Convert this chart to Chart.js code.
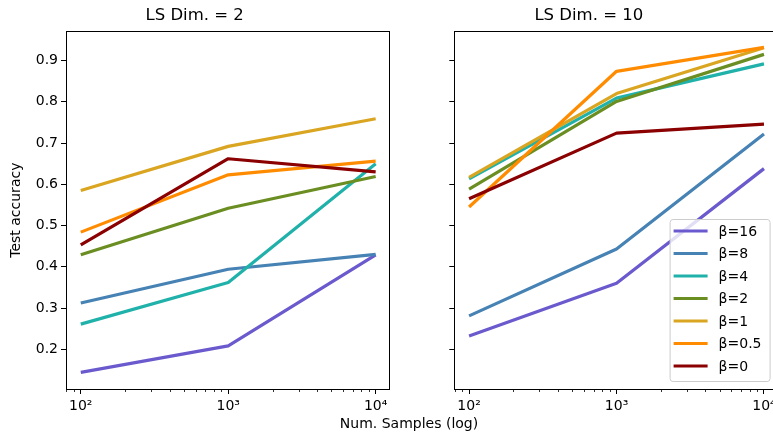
<!DOCTYPE html>
<html>
<head>
<meta charset="utf-8">
<script src="https://cdn.jsdelivr.net/npm/chart.js@4"></script>
<style>
  html, body { margin: 0; padding: 0; background: #fff; overflow: hidden; }
  #wrap { position: relative; width: 773px; height: 435px; overflow: hidden; }
  #left { position: absolute; left: 0; top: 0; }
  #right { position: absolute; left: 400px; top: 0; }
  #xlabel {
    position: absolute; left: 259px; width: 300px; top: 415px;
    text-align: center; font: 14px "DejaVu Sans"; line-height: 17px; color: #000;
  }
</style>
</head>
<body>
<div id="wrap">
  <canvas id="left" width="410" height="435"></canvas>
  <canvas id="right" width="390" height="435"></canvas>
  <div id="xlabel">Num. Samples (log)</div>
</div>
<script>
// Test accuracy vs. number of samples, one panel per latent-space dimension
const samples = [100, 1000, 10000];
const xTicks = [100, 1000, 10000];
const xTickLabels = ['10²', '10³', '10⁴'];
const yTicks = [0.2, 0.3, 0.4, 0.5, 0.6, 0.7, 0.8, 0.9];
const betas = ['β=16', 'β=8', 'β=4', 'β=2', 'β=1', 'β=0.5', 'β=0'];

// rows follow the order of betas
const accDim2 = [
  [0.144, 0.208, 0.429],
  [0.312, 0.394, 0.430],
  [0.261, 0.362, 0.650],
  [0.429, 0.542, 0.619],
  [0.585, 0.692, 0.759],
  [0.484, 0.623, 0.656],
  [0.453, 0.662, 0.630]
];
const accDim10 = [
  [0.232, 0.360, 0.638],
  [0.281, 0.443, 0.722],
  [0.613, 0.809, 0.892],
  [0.588, 0.801, 0.915],
  [0.617, 0.820, 0.931],
  [0.545, 0.874, 0.932],
  [0.565, 0.724, 0.746]
];

const colors = ['#6a5acd', '#4682b4', '#20b2aa', '#6b8e23', '#daa520', '#ff8c00', '#8b0000'];

Chart.defaults.font.family = 'DejaVu Sans';
Chart.defaults.color = '#000';

function makeDatasets(rows) {
  return rows.map((row, i) => ({
    label: betas[i],
    data: row.map((v, j) => ({ x: samples[j], y: v })),
    borderColor: colors[i],
    backgroundColor: colors[i],
    borderWidth: 3.2,
    pointRadius: 0,
    tension: 0,
    borderJoinStyle: 'round',
    order: rows.length - i   // later betas on top
  }));
}

// box around the plot area plus short minor ticks on the log axis
const frame = {
  id: 'frame',
  afterDraw(chart) {
    const { ctx, chartArea: a, scales } = chart;
    ctx.save();
    ctx.strokeStyle = '#000';
    ctx.lineWidth = 1;
    ctx.strokeRect(Math.round(a.left) + 0.5, Math.round(a.top) + 0.5,
      Math.round(a.right - a.left), Math.round(a.bottom - a.top));
    ctx.lineWidth = 0.8;
    ctx.beginPath();
    for (let d = 10; d <= 10000; d *= 10) {
      for (let m = 2; m <= 9; m++) {
        const v = d * m;
        if (v < scales.x.min || v > scales.x.max) continue;
        const px = Math.round(scales.x.getPixelForValue(v)) + 0.5;
        ctx.moveTo(px, Math.round(a.bottom));
        ctx.lineTo(px, Math.round(a.bottom) + 3);
      }
    }
    ctx.stroke();
    ctx.restore();
  }
};

// legend drawn inside the lower right corner of the plot area
const innerLegend = {
  id: 'innerLegend',
  afterDraw(chart) {
    const { ctx, chartArea: a } = chart;
    const w = 100, h = 162;
    const x0 = a.right - 8 - w, y0 = a.bottom - 8 - h;
    ctx.save();
    ctx.fillStyle = 'rgba(255,255,255,0.8)';
    ctx.strokeStyle = '#cccccc';
    ctx.lineWidth = 1;
    ctx.beginPath();
    ctx.roundRect(x0 + 0.5, y0 + 0.5, w, h, 3);
    ctx.fill();
    ctx.stroke();
    ctx.font = '14px "DejaVu Sans"';
    ctx.textBaseline = 'middle';
    chart.data.datasets.forEach((ds, i) => {
      const y = y0 + 12 + i * 22.5;
      ctx.strokeStyle = ds.borderColor;
      ctx.lineWidth = 3;
      ctx.beginPath();
      ctx.moveTo(x0 + 4, y);
      ctx.lineTo(x0 + 38, y);
      ctx.stroke();
      ctx.fillStyle = '#000';
      ctx.fillText(ds.label, x0 + 49, y + 1);
    });
    ctx.restore();
  }
};

function makeChart(id, title, rows, opts) {
  return new Chart(document.getElementById(id), {
    type: 'line',
    data: { datasets: makeDatasets(rows) },
    plugins: opts.legend ? [frame, innerLegend] : [frame],
    options: {
      responsive: false,
      animation: false,
      layout: { padding: { left: 0, right: opts.padRight, top: 0, bottom: 0 } },
      plugins: {
        legend: { display: false },
        tooltip: { enabled: false },
        title: {
          display: true,
          text: title,
          font: { size: 16.5, weight: 'normal' },
          padding: { top: 6, bottom: 5.5 }
        }
      },
      scales: {
        x: {
          type: 'logarithmic',
          min: 79.4,
          max: 12370,
          afterBuildTicks: s => { s.ticks = xTicks.map(v => ({ value: v, major: true })); },
          afterFit: s => { s.height = 46; },
          grid: { drawOnChartArea: false, drawTicks: true, tickLength: 5, color: '#000' },
          border: { display: false },
          ticks: {
            padding: 4,
            font: { size: 14 },
            maxRotation: 0,
            autoSkip: false,
            callback: v => xTickLabels[xTicks.indexOf(v)] ?? ''
          }
        },
        y: {
          min: 0.1036,
          max: 0.971,
          afterBuildTicks: s => { s.ticks = yTicks.map(v => ({ value: v })); },
          afterFit: s => { s.width = opts.yWidth; },
          grid: { drawOnChartArea: false, drawTicks: true, tickLength: 5, color: '#000' },
          border: { display: false },
          ticks: {
            display: opts.yLabels,
            padding: 3,
            font: { size: 14 },
            callback: v => v.toFixed(1)
          },
          title: {
            display: opts.yLabels,
            text: 'Test accuracy',
            font: { size: 14 },
            padding: { top: 8, bottom: 0 }
          }
        }
      }
    }
  });
}

makeChart('left', 'LS Dim. = 2', accDim2, { yWidth: 66, padRight: 20.7, yLabels: true, legend: false });
makeChart('right', 'LS Dim. = 10', accDim10, { yWidth: 54.3, padRight: 12.4, yLabels: false, legend: true });
</script>
</body>
</html>
